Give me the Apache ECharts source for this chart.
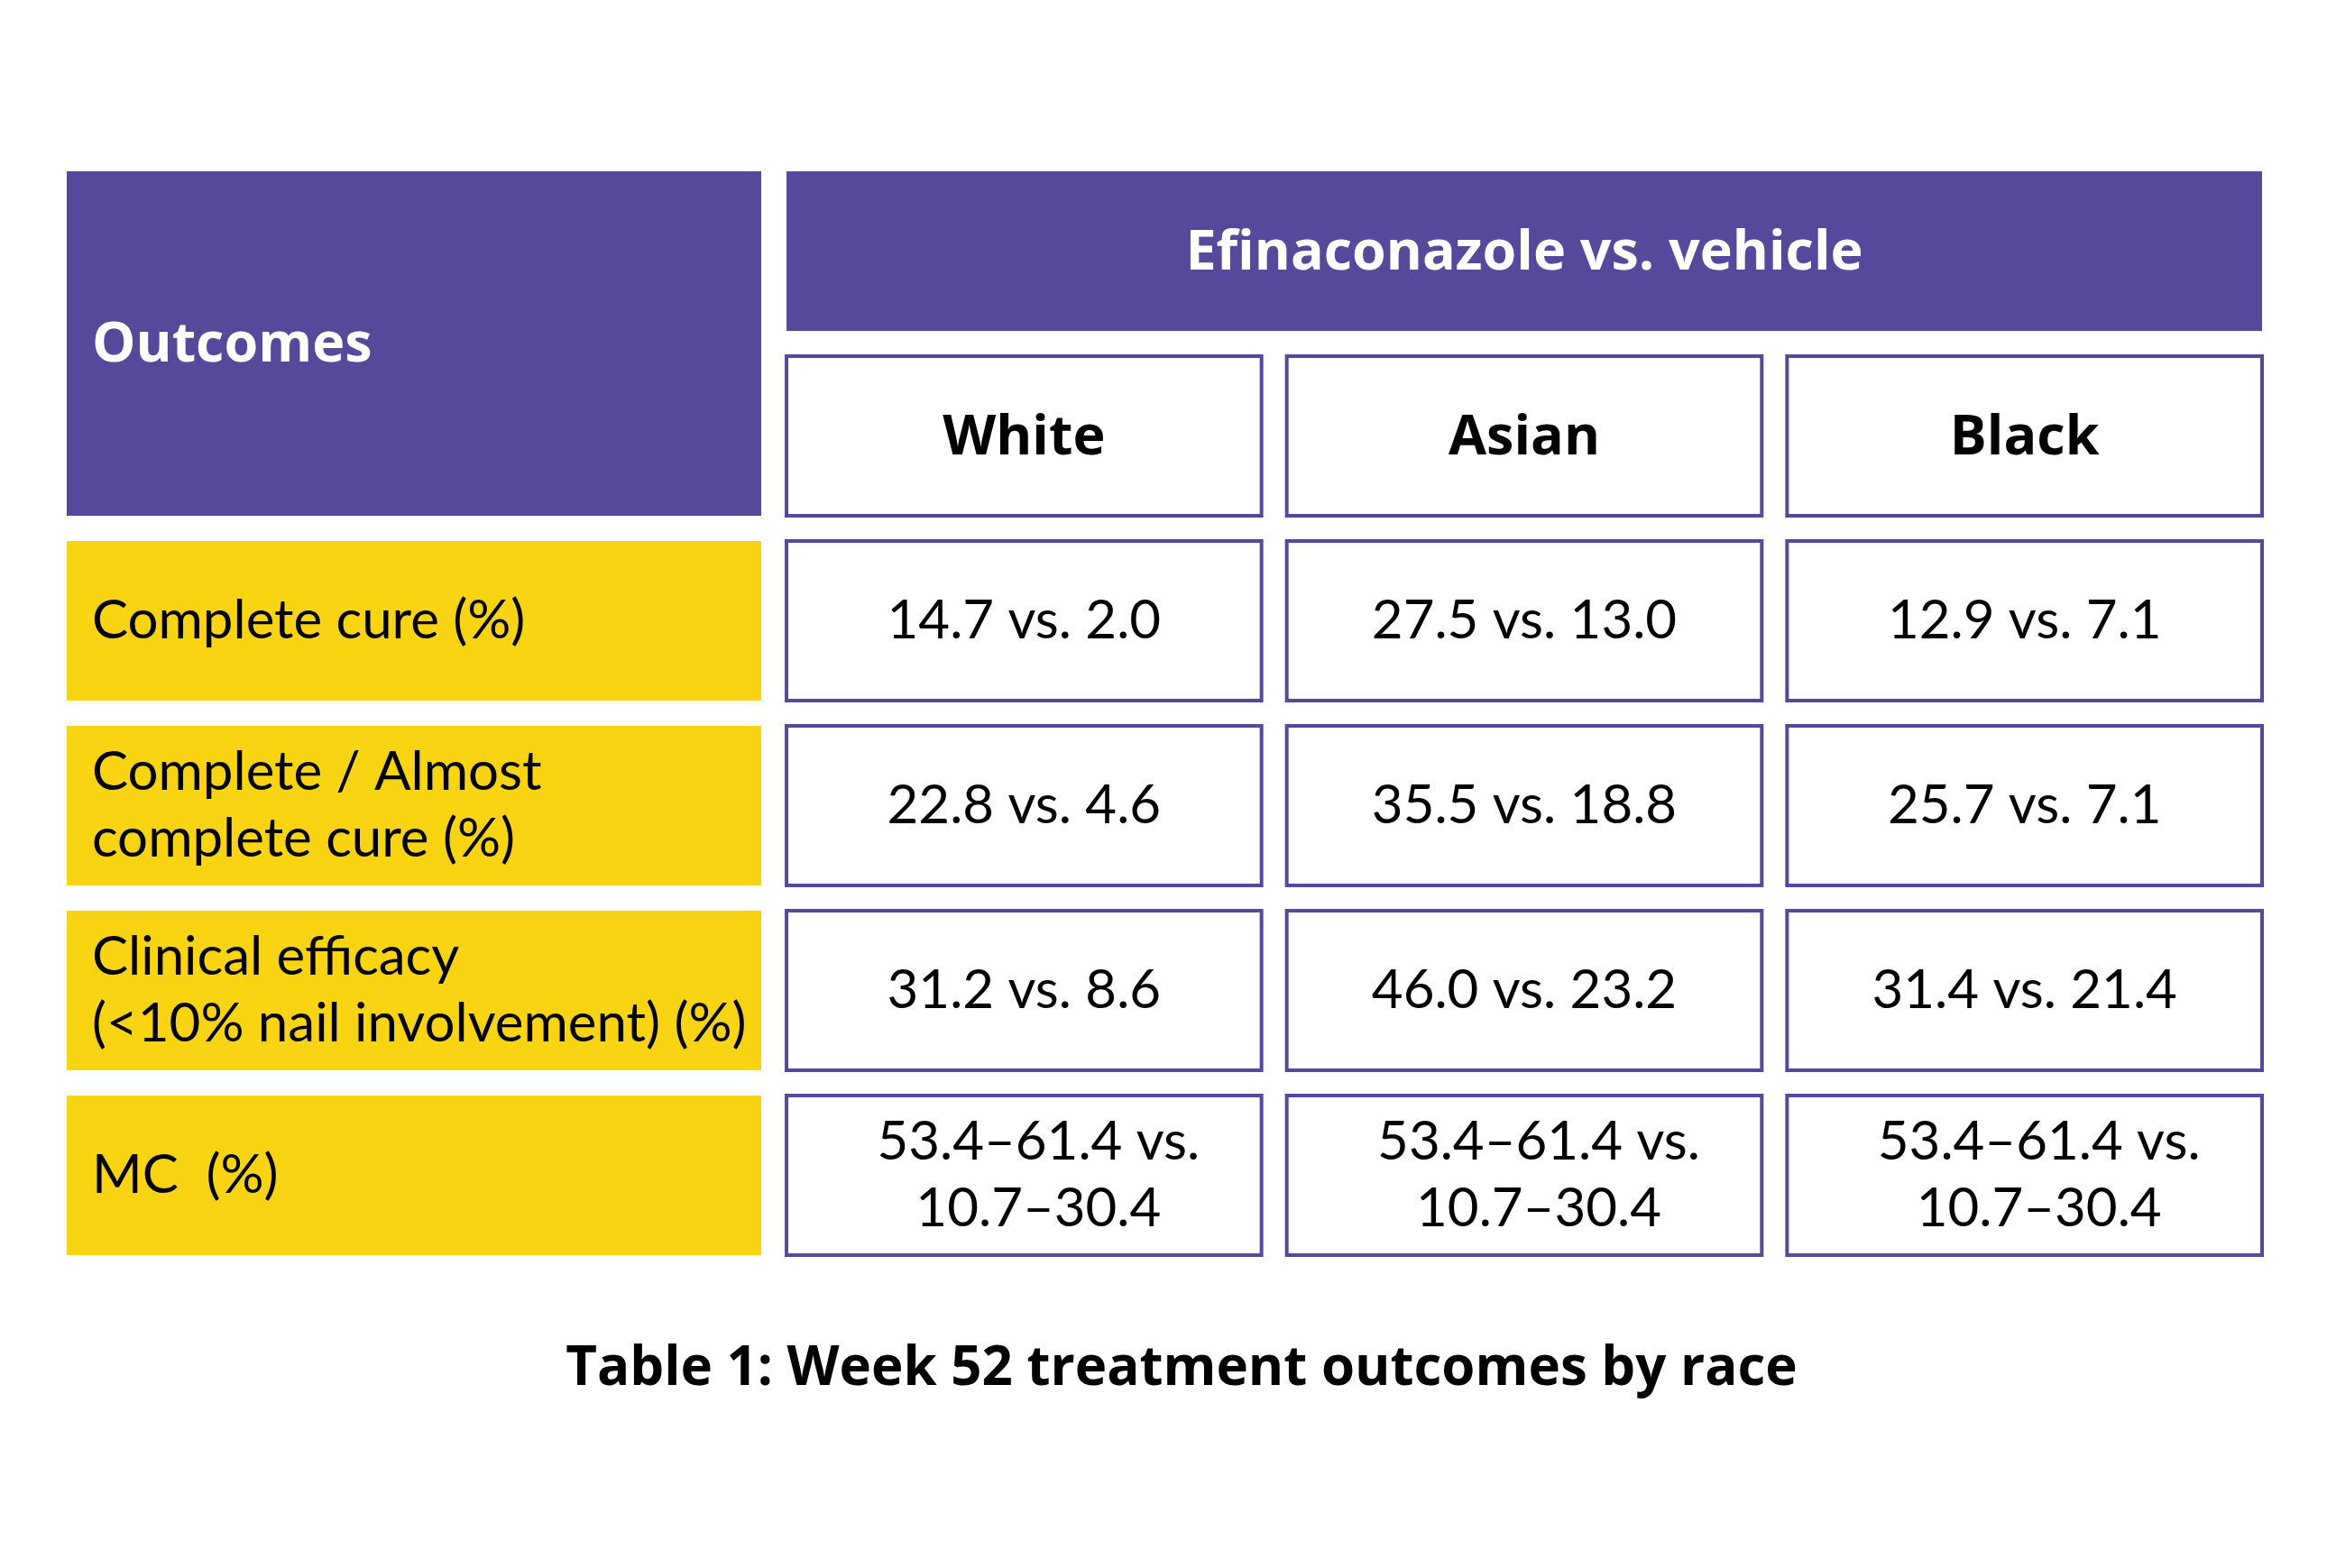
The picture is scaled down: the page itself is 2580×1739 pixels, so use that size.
<!DOCTYPE html>
<html>
<head>
<meta charset="utf-8">
<script src="https://cdn.jsdelivr.net/npm/echarts@6/dist/echarts.min.js"></script>
<style>
  html, body { margin: 0; padding: 0; background: #ffffff; }
  #chart { width: 2580px; height: 1739px; }
</style>
</head>
<body>
<div id="chart"></div>
<script>
// table content
var stubTitle = 'Outcomes';
var groupTitle = 'Efinaconazole vs. vehicle';
var races = ['White', 'Asian', 'Black'];
var outcomes = [
    'Complete cure (%)',
    'Complete / Almost\ncomplete cure (%)',
    'Clinical efficacy\n(<10% nail involvement) (%)',
    'MC  (%)'
];
var whiteValues = ['14.7 vs. 2.0', '22.8 vs. 4.6', '31.2 vs. 8.6', '53.4–61.4 vs.\n10.7–30.4'];
var asianValues = ['27.5 vs. 13.0', '35.5 vs. 18.8', '46.0 vs. 23.2', '53.4–61.4 vs.\n10.7–30.4'];
var blackValues = ['12.9 vs. 7.1', '25.7 vs. 7.1', '31.4 vs. 21.4', '53.4–61.4 vs.\n10.7–30.4'];
var caption = 'Table 1: Week 52 treatment outcomes by race';

var PURPLE = '#56499b';
var YELLOW = '#f9d412';
var GAP = 24;
var BOLD_FONT = '"Open Sans"';
var BODY_FONT = 'Lato';

var rowKeys = ['group', 'race', 'r1', 'r2', 'r3', 'r4'];

// left column cells: [col, row, colSpan, rowSpan]
var stubCells = [{ value: [0, 0, 1, 2], text: stubTitle, kind: 'head' }];
outcomes.forEach(function (t, i) {
    stubCells.push({ value: [0, i + 2, 1, 1], text: t, kind: 'label' });
});

// race columns
var valueCols = [whiteValues, asianValues, blackValues];
var bodyCells = [{ value: [0, 0, 3, 1], text: groupTitle, kind: 'group' }];
races.forEach(function (r, c) {
    bodyCells.push({ value: [c, 1, 1, 1], text: r, kind: 'race' });
    valueCols[c].forEach(function (v, i) {
        bodyCells.push({ value: [c, i + 2, 1, 1], text: v, kind: 'value' });
    });
});

function makeRender(cells) {
    return function (params, api) {
        var col = api.value(0), row = api.value(1);
        var cs = api.value(2), rs = api.value(3);
        var band = api.size([1, 1]);
        var p0 = api.coord([col, row]);
        var p1 = api.coord([col + cs - 1, row + rs - 1]);
        var x = p0[0] - band[0] / 2 + GAP / 2;
        var y = p0[1] - band[1] / 2 + GAP / 2;
        var w = p1[0] - p0[0] + band[0] - GAP;
        var h = p1[1] - p0[1] + band[1] - GAP;
        var cell = cells[params.dataIndex];
        var kind = cell.kind;
        var isBold = (kind === 'head' || kind === 'group' || kind === 'race');

        var rectStyle;
        if (kind === 'head' || kind === 'group') {
            rectStyle = { fill: PURPLE };
        } else if (kind === 'label') {
            rectStyle = { fill: YELLOW };
        } else {
            rectStyle = { fill: '#ffffff', stroke: PURPLE, lineWidth: 4 };
        }

        var left = (kind === 'head' || kind === 'label');
        // the two-line MC values sit a little right of centre
        var shift = (kind === 'value' && cell.text.indexOf('\n') >= 0) ? 16 : 0;
        var txt = {
            type: 'text',
            style: {
                text: cell.text,
                x: left ? x + 30 : x + w / 2 + shift,
                y: y + h / 2 + (isBold ? 3 : 0),
                align: left ? 'left' : 'center',
                verticalAlign: 'middle',
                fontFamily: isBold ? BOLD_FONT : BODY_FONT,
                fontSize: isBold ? 61 : 60,
                fontWeight: isBold ? 'bold' : 'normal',
                lineHeight: 74,
                fill: (kind === 'head' || kind === 'group') ? '#ffffff' : '#000000'
            }
        };
        return {
            type: 'group',
            children: [
                { type: 'rect', shape: { x: x + 2, y: y + 2, width: w - 4, height: h - 4 }, style: rectStyle },
                txt
            ]
        };
    };
}

var myChart = echarts.init(document.getElementById('chart'), null, { renderer: 'canvas' });

var option = {
    backgroundColor: '#ffffff',
    animation: false,
    title: {
        text: caption,
        left: 1305,
        top: 1484,
        textAlign: 'center',
        textStyle: { fontFamily: BOLD_FONT, fontSize: 60, fontWeight: 'bold', color: '#000000' }
    },
    grid: [
        { left: 60, top: 176, width: 798, height: 1230 },
        { left: 858, top: 176, width: 1664, height: 1230 }
    ],
    xAxis: [
        { type: 'category', gridIndex: 0, data: [stubTitle], show: false },
        { type: 'category', gridIndex: 1, data: races, show: false }
    ],
    yAxis: [
        { type: 'category', gridIndex: 0, data: rowKeys, inverse: true, show: false },
        { type: 'category', gridIndex: 1, data: rowKeys, inverse: true, show: false }
    ],
    series: [
        {
            type: 'custom',
            xAxisIndex: 0,
            yAxisIndex: 0,
            renderItem: makeRender(stubCells),
            data: stubCells,
            silent: true
        },
        {
            type: 'custom',
            xAxisIndex: 1,
            yAxisIndex: 1,
            renderItem: makeRender(bodyCells),
            data: bodyCells,
            silent: true
        }
    ]
};

myChart.setOption(option);
</script>
</body>
</html>
